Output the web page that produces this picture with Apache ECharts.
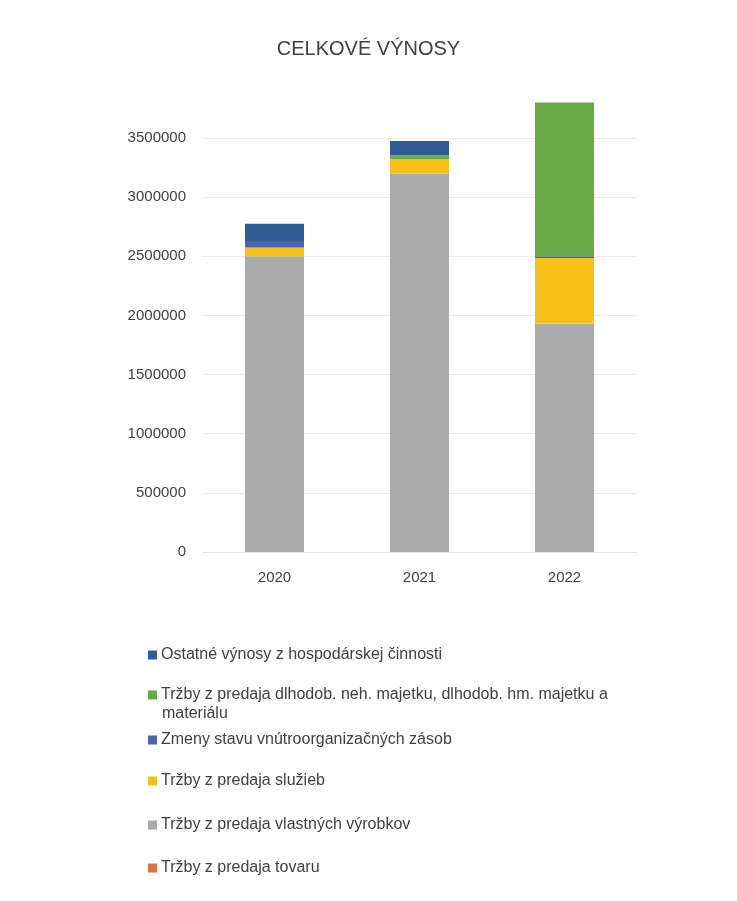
<!DOCTYPE html>
<html><head><meta charset="utf-8">
<script src="https://cdn.jsdelivr.net/npm/echarts@6/dist/echarts.min.js"></script>
<style>html,body{margin:0;padding:0;background:#fff}#c{width:737px;height:901px}</style>
</head><body><div id="c"></div>
<script>
const categories = ['2020', '2021', '2022'];
const seriesNames = [
  'Tržby z predaja tovaru',
  'Tržby z predaja vlastných výrobkov',
  'Tržby z predaja služieb',
  'Zmeny stavu vnútroorganizačných zásob',
  'Tržby z predaja dlhodob. neh. majetku, dlhodob. hm. majetku a materiálu',
  'Ostatné výnosy z hospodárskej činnosti'
];
const tovaru   = [0, 0, 0];
const vyrobkov = [2500000, 3200000, 1930000];
const sluzieb  = [75000, 120000, 555000];
const zmeny    = [55000, 0, 15000];
const dlhodob  = [0, 35000, 1300000];
const ostatne  = [145000, 120000, 0];
const yTicks = [0, 500000, 1000000, 1500000, 2000000, 2500000, 3000000, 3500000];

const values = [tovaru, vyrobkov, sluzieb, zmeny, dlhodob, ostatne];
const colors = ['#e07040', '#ababab', '#f5c118', '#4a66b0', '#6aaa45', '#2f5b96'];

const font = 'Liberation Sans, Arial, sans-serif';
const series = seriesNames.map((n, i) => ({
  name: n, type: 'bar', stack: 'total', barWidth: 59,
  data: values[i], itemStyle: { color: colors[i] }
}));

const legendTops = [653, 693, 738, 779, 823, 866];
const legendOrder = [5, 4, 3, 2, 1, 0];
const legends = legendOrder.map((si, k) => ({
  data: [seriesNames[si]],
  left: 143, top: legendTops[k] - 13, orient: 'vertical',
  icon: 'rect', itemWidth: 9, itemHeight: 9, itemGap: 0,
  selectedMode: false,
  formatter: nm => nm.replace(' materiálu', ''),
  textStyle: { fontFamily: font, fontSize: 16, color: '#404040', lineHeight: 20, padding: [0,0,0,-1] }
}));

const gridColors = yTicks.map(() => '#ececec').concat(['rgba(0,0,0,0)']);

const chart = echarts.init(document.getElementById('c'), null, { renderer: 'canvas' });
chart.setOption({
  animation: false,
  backgroundColor: '#fff',
  title: { text: 'CELKOVÉ VÝNOSY', left: 'center', top: 34,
    textStyle: { fontFamily: font, fontSize: 20, fontWeight: 'normal', color: '#404040' } },
  grid: { left: 202, right: 100, top: 96.6, bottom: 349 },
  legend: legends,
  graphic: [{ type: 'text', left: 162, top: 706,
    style: { text: 'materiálu', font: '16px ' + font, fill: '#404040' } }],
  xAxis: { type: 'category', data: categories,
    axisLine: { lineStyle: { color: '#e3e3e3' } }, axisTick: { show: false },
    axisLabel: { fontFamily: font, fontSize: 15, color: '#404040', margin: 18 } },
  yAxis: { type: 'value', min: 0, max: 3850000, interval: 500000,
    axisLine: { show: false }, axisTick: { show: false },
    splitLine: { lineStyle: { color: gridColors } },
    axisLabel: { fontFamily: font, fontSize: 15, color: '#404040', margin: 16,
      showMaxLabel: false,
      formatter: v => yTicks.includes(v) ? String(v) : '' } },
  series: series
});
</script></body></html>
